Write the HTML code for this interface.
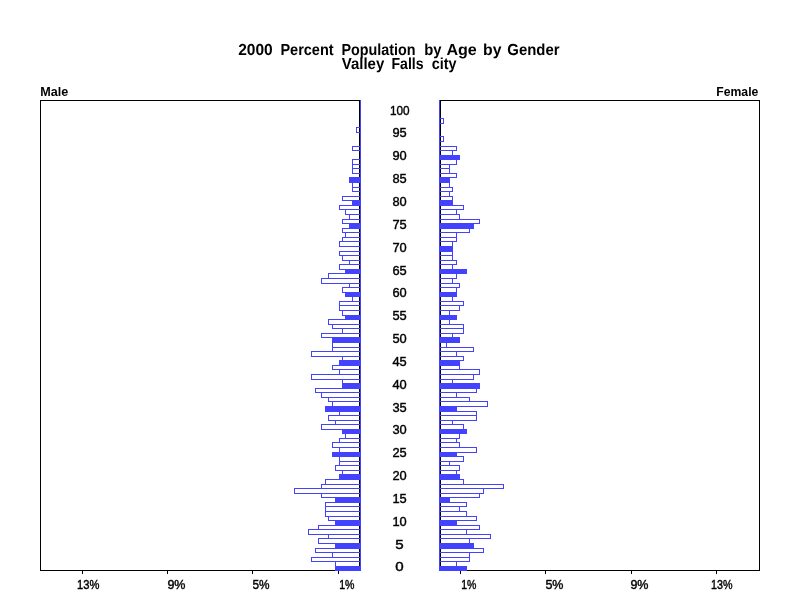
<!DOCTYPE html>
<html><head><meta charset="utf-8"><title>2000 Percent Population by Age by Gender</title>
<style>
html,body{margin:0;padding:0;background:#fff;}
body{width:800px;height:600px;overflow:hidden;position:relative;font-family:"Liberation Sans",sans-serif;}
svg{position:absolute;left:0;top:0;display:block}
svg text{font-family:"Liberation Sans",sans-serif;fill:#000;}
.t{font-size:16px;font-weight:bold;text-rendering:geometricPrecision;}
.s{font-size:13px;font-weight:bold;}
.n{font-size:12.3px;stroke:#000;stroke-width:.4px;}
</style></head><body>
<svg width="800" height="600" viewBox="0 0 800 600">
<rect width="800" height="600" fill="#fff"/>
<g class="t"><text y="55"><tspan x="238.2" textLength="34.5" lengthAdjust="spacingAndGlyphs">2000</tspan> <tspan x="280.4" textLength="53.2" lengthAdjust="spacingAndGlyphs">Percent</tspan> <tspan x="341.4" textLength="74.0" lengthAdjust="spacingAndGlyphs">Population</tspan> <tspan x="424.3" textLength="17.3" lengthAdjust="spacingAndGlyphs">by</tspan> <tspan x="446.4" textLength="30.4" lengthAdjust="spacingAndGlyphs">Age</tspan> <tspan x="483.1" textLength="18.4" lengthAdjust="spacingAndGlyphs">by</tspan> <tspan x="507.3" textLength="52.2" lengthAdjust="spacingAndGlyphs">Gender</tspan></text>
<text y="69"><tspan x="341.8" textLength="42.4" lengthAdjust="spacingAndGlyphs">Valley</tspan> <tspan x="391.5" textLength="32.1" lengthAdjust="spacingAndGlyphs">Falls</tspan> <tspan x="431.8" textLength="24.8" lengthAdjust="spacingAndGlyphs">city</tspan></text></g>
<g class="s">
<text x="40.2" y="96" textLength="28" lengthAdjust="spacingAndGlyphs">Male</text>
<text x="716.3" y="96" textLength="42" lengthAdjust="spacingAndGlyphs">Female</text>
</g>
<g shape-rendering="crispEdges">
<path d="M40.5 100.5H359.5V570.5H40.5ZM440.5 100.5H759.5V570.5H440.5Z" fill="none" stroke="#000" stroke-width="1"/>
<g fill="#000"><rect x="82" y="571" width="1" height="3"/><rect x="167" y="571" width="1" height="3"/><rect x="252" y="571" width="1" height="3"/><rect x="338" y="571" width="1" height="3"/><rect x="460" y="571" width="1" height="3"/><rect x="545" y="571" width="1" height="3"/><rect x="631" y="571" width="1" height="3"/><rect x="716" y="571" width="1" height="3"/></g>
<rect x="360" y="100" width="1" height="471" fill="#4242ff"/>
<rect x="439" y="100" width="1" height="471" fill="#4242ff"/>
<path d="M360.5 561.5H335.5V566.5H360.5M439.5 561.5H456.5V566.5H439.5M360.5 557.5H311.5V561.5H360.5M439.5 557.5H469.5V561.5H439.5M360.5 552.5H332.5V557.5H360.5M439.5 552.5H469.5V557.5H439.5M360.5 548.5H315.5V552.5H360.5M439.5 548.5H483.5V552.5H439.5M360.5 538.5H318.5V543.5H360.5M439.5 538.5H469.5V543.5H439.5M360.5 534.5H328.5V538.5H360.5M439.5 534.5H490.5V538.5H439.5M360.5 529.5H308.5V534.5H360.5M439.5 529.5H466.5V534.5H439.5M360.5 525.5H318.5V529.5H360.5M439.5 525.5H479.5V529.5H439.5M360.5 516.5H328.5V520.5H360.5M439.5 516.5H476.5V520.5H439.5M360.5 511.5H325.5V516.5H360.5M439.5 511.5H466.5V516.5H439.5M360.5 506.5H325.5V511.5H360.5M439.5 506.5H459.5V511.5H439.5M360.5 502.5H325.5V506.5H360.5M439.5 502.5H466.5V506.5H439.5M360.5 493.5H321.5V497.5H360.5M439.5 493.5H479.5V497.5H439.5M360.5 488.5H294.5V493.5H360.5M439.5 488.5H483.5V493.5H439.5M360.5 484.5H321.5V488.5H360.5M439.5 484.5H503.5V488.5H439.5M360.5 479.5H325.5V484.5H360.5M439.5 479.5H463.5V484.5H439.5M360.5 470.5H342.5V474.5H360.5M439.5 470.5H456.5V474.5H439.5M360.5 465.5H335.5V470.5H360.5M439.5 465.5H459.5V470.5H439.5M360.5 461.5H339.5V465.5H360.5M439.5 461.5H449.5V465.5H439.5M360.5 456.5H339.5V461.5H360.5M439.5 456.5H463.5V461.5H439.5M360.5 447.5H339.5V452.5H360.5M439.5 447.5H476.5V452.5H439.5M360.5 442.5H332.5V447.5H360.5M439.5 442.5H459.5V447.5H439.5M360.5 438.5H339.5V442.5H360.5M439.5 438.5H456.5V442.5H439.5M360.5 433.5H345.5V438.5H360.5M439.5 433.5H459.5V438.5H439.5M360.5 424.5H321.5V429.5H360.5M439.5 424.5H463.5V429.5H439.5M360.5 420.5H335.5V424.5H360.5M439.5 420.5H452.5V424.5H439.5M360.5 415.5H328.5V420.5H360.5M439.5 415.5H476.5V420.5H439.5M360.5 411.5H339.5V415.5H360.5M439.5 411.5H476.5V415.5H439.5M360.5 401.5H332.5V406.5H360.5M439.5 401.5H487.5V406.5H439.5M360.5 397.5H328.5V401.5H360.5M439.5 397.5H469.5V401.5H439.5M360.5 392.5H321.5V397.5H360.5M439.5 392.5H456.5V397.5H439.5M360.5 388.5H315.5V392.5H360.5M439.5 388.5H476.5V392.5H439.5M360.5 379.5H342.5V383.5H360.5M439.5 379.5H452.5V383.5H439.5M360.5 374.5H311.5V379.5H360.5M439.5 374.5H473.5V379.5H439.5M360.5 369.5H339.5V374.5H360.5M439.5 369.5H479.5V374.5H439.5M360.5 365.5H332.5V369.5H360.5M439.5 365.5H459.5V369.5H439.5M360.5 356.5H342.5V360.5H360.5M439.5 356.5H463.5V360.5H439.5M360.5 351.5H311.5V356.5H360.5M439.5 351.5H456.5V356.5H439.5M360.5 347.5H332.5V351.5H360.5M439.5 347.5H473.5V351.5H439.5M360.5 342.5H332.5V347.5H360.5M439.5 342.5H446.5V347.5H439.5M360.5 333.5H321.5V337.5H360.5M439.5 333.5H452.5V337.5H439.5M360.5 328.5H342.5V333.5H360.5M439.5 328.5H463.5V333.5H439.5M360.5 324.5H332.5V328.5H360.5M439.5 324.5H463.5V328.5H439.5M360.5 319.5H328.5V324.5H360.5M439.5 319.5H449.5V324.5H439.5M360.5 310.5H342.5V315.5H360.5M439.5 310.5H449.5V315.5H439.5M360.5 305.5H339.5V310.5H360.5M439.5 305.5H459.5V310.5H439.5M360.5 301.5H339.5V305.5H360.5M439.5 301.5H463.5V305.5H439.5M360.5 296.5H352.5V301.5H360.5M439.5 296.5H452.5V301.5H439.5M360.5 287.5H342.5V292.5H360.5M439.5 287.5H456.5V292.5H439.5M360.5 283.5H349.5V287.5H360.5M439.5 283.5H459.5V287.5H439.5M360.5 278.5H321.5V283.5H360.5M439.5 278.5H452.5V283.5H439.5M360.5 273.5H328.5V278.5H360.5M439.5 273.5H456.5V278.5H439.5M360.5 264.5H339.5V269.5H360.5M439.5 264.5H452.5V269.5H439.5M360.5 260.5H349.5V264.5H360.5M439.5 260.5H456.5V264.5H439.5M360.5 255.5H342.5V260.5H360.5M439.5 255.5H452.5V260.5H439.5M360.5 251.5H339.5V255.5H360.5M439.5 251.5H452.5V255.5H439.5M360.5 241.5H339.5V246.5H360.5M439.5 241.5H452.5V246.5H439.5M360.5 237.5H342.5V241.5H360.5M439.5 237.5H456.5V241.5H439.5M360.5 232.5H345.5V237.5H360.5M439.5 232.5H456.5V237.5H439.5M360.5 228.5H342.5V232.5H360.5M439.5 228.5H469.5V232.5H439.5M360.5 219.5H342.5V223.5H360.5M439.5 219.5H479.5V223.5H439.5M360.5 214.5H349.5V219.5H360.5M439.5 214.5H459.5V219.5H439.5M360.5 209.5H345.5V214.5H360.5M439.5 209.5H456.5V214.5H439.5M360.5 205.5H339.5V209.5H360.5M439.5 205.5H463.5V209.5H439.5M360.5 196.5H342.5V200.5H360.5M439.5 196.5H452.5V200.5H439.5M439.5 191.5H449.5V196.5H439.5M360.5 187.5H352.5V191.5H360.5M439.5 187.5H452.5V191.5H439.5M360.5 182.5H352.5V187.5H360.5M439.5 182.5H449.5V187.5H439.5M439.5 173.5H456.5V177.5H439.5M360.5 168.5H352.5V173.5H360.5M439.5 168.5H449.5V173.5H439.5M360.5 164.5H352.5V168.5H360.5M439.5 164.5H449.5V168.5H439.5M360.5 159.5H352.5V164.5H360.5M439.5 159.5H456.5V164.5H439.5M439.5 150.5H452.5V155.5H439.5M360.5 146.5H352.5V150.5H360.5M439.5 146.5H456.5V150.5H439.5M439.5 136.5H443.5V141.5H439.5M360.5 127.5H356.5V132.5H360.5M439.5 118.5H443.5V123.5H439.5" fill="none" stroke="#4242ff" stroke-width="1"/>
<g fill="#4242ff"><rect x="335" y="566" width="26" height="5"/><rect x="439" y="566" width="28" height="5"/><rect x="335" y="543" width="26" height="6"/><rect x="439" y="543" width="35" height="6"/><rect x="335" y="520" width="26" height="6"/><rect x="439" y="520" width="18" height="6"/><rect x="335" y="497" width="26" height="6"/><rect x="439" y="497" width="11" height="6"/><rect x="339" y="474" width="22" height="6"/><rect x="439" y="474" width="21" height="6"/><rect x="332" y="452" width="29" height="5"/><rect x="439" y="452" width="18" height="5"/><rect x="342" y="429" width="19" height="5"/><rect x="439" y="429" width="28" height="5"/><rect x="325" y="406" width="36" height="6"/><rect x="439" y="406" width="18" height="6"/><rect x="342" y="383" width="19" height="6"/><rect x="439" y="383" width="41" height="6"/><rect x="339" y="360" width="22" height="6"/><rect x="439" y="360" width="21" height="6"/><rect x="332" y="337" width="29" height="6"/><rect x="439" y="337" width="21" height="6"/><rect x="345" y="315" width="16" height="5"/><rect x="439" y="315" width="18" height="5"/><rect x="345" y="292" width="16" height="5"/><rect x="439" y="292" width="18" height="5"/><rect x="345" y="269" width="16" height="5"/><rect x="439" y="269" width="28" height="5"/><rect x="439" y="246" width="14" height="6"/><rect x="349" y="223" width="12" height="6"/><rect x="439" y="223" width="35" height="6"/><rect x="352" y="200" width="9" height="6"/><rect x="439" y="200" width="14" height="6"/><rect x="349" y="177" width="12" height="6"/><rect x="439" y="177" width="11" height="6"/><rect x="439" y="155" width="21" height="5"/></g>
</g>
<g class="n" style="letter-spacing:0"><text x="77.0" y="588.8" textLength="22.4" lengthAdjust="spacingAndGlyphs">13%</text><text x="167.4" y="588.8" textLength="18.1" lengthAdjust="spacingAndGlyphs">9%</text><text x="252.4" y="588.8" textLength="17.1" lengthAdjust="spacingAndGlyphs">5%</text><text x="339.2" y="588.8" textLength="15.3" lengthAdjust="spacingAndGlyphs">1%</text><text x="461.2" y="588.8" textLength="15.2" lengthAdjust="spacingAndGlyphs">1%</text><text x="545.4" y="588.8" textLength="18.1" lengthAdjust="spacingAndGlyphs">5%</text><text x="630.4" y="588.8" textLength="18.1" lengthAdjust="spacingAndGlyphs">9%</text><text x="711.0" y="588.8" textLength="21.5" lengthAdjust="spacingAndGlyphs">13%</text></g>
<g class="n" style="letter-spacing:0"><text x="395.3" y="570.9" textLength="8.4" lengthAdjust="spacingAndGlyphs">0</text><text x="395.3" y="548.9" textLength="8.4" lengthAdjust="spacingAndGlyphs">5</text><text x="392.4" y="525.9" textLength="14.3" lengthAdjust="spacingAndGlyphs">10</text><text x="392.4" y="502.9" textLength="14.3" lengthAdjust="spacingAndGlyphs">15</text><text x="392.4" y="479.9" textLength="14.3" lengthAdjust="spacingAndGlyphs">20</text><text x="392.4" y="456.9" textLength="14.3" lengthAdjust="spacingAndGlyphs">25</text><text x="392.4" y="433.9" textLength="14.3" lengthAdjust="spacingAndGlyphs">30</text><text x="392.4" y="411.9" textLength="14.3" lengthAdjust="spacingAndGlyphs">35</text><text x="392.4" y="388.9" textLength="14.3" lengthAdjust="spacingAndGlyphs">40</text><text x="392.4" y="365.9" textLength="14.3" lengthAdjust="spacingAndGlyphs">45</text><text x="392.4" y="342.9" textLength="14.3" lengthAdjust="spacingAndGlyphs">50</text><text x="392.4" y="319.9" textLength="14.3" lengthAdjust="spacingAndGlyphs">55</text><text x="392.4" y="296.9" textLength="14.3" lengthAdjust="spacingAndGlyphs">60</text><text x="392.4" y="274.9" textLength="14.3" lengthAdjust="spacingAndGlyphs">65</text><text x="392.4" y="251.8" textLength="14.3" lengthAdjust="spacingAndGlyphs">70</text><text x="392.4" y="228.8" textLength="14.3" lengthAdjust="spacingAndGlyphs">75</text><text x="392.4" y="205.8" textLength="14.3" lengthAdjust="spacingAndGlyphs">80</text><text x="392.4" y="182.8" textLength="14.3" lengthAdjust="spacingAndGlyphs">85</text><text x="392.4" y="159.8" textLength="14.3" lengthAdjust="spacingAndGlyphs">90</text><text x="392.4" y="136.8" textLength="14.3" lengthAdjust="spacingAndGlyphs">95</text><text x="389.9" y="114.8" textLength="19.6" lengthAdjust="spacingAndGlyphs">100</text></g>
</svg>
</body></html>
